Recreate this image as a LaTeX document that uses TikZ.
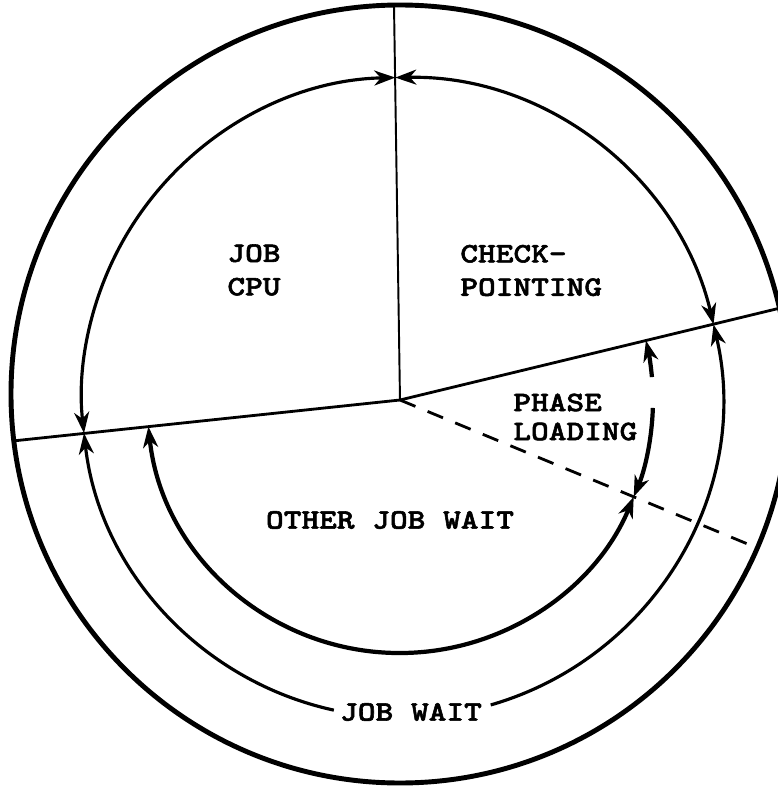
\documentclass[tikz,border=0pt]{standalone}
\usepackage{fontspec}
\newfontfamily\typer{lmmonolt10-bold}[Extension=.otf, FakeStretch=1.2, FakeBold=2]
\usetikzlibrary{arrows.meta}

\begin{document}
\begin{tikzpicture}[
    x=0.02cm, y=0.02cm,
    >={Stealth[length=4.2mm, width=3mm, inset=1.3mm]},
    every node/.style={inner sep=0pt, font=\typer\fontsize{16}{19}\selectfont},
    rim/.style={line width=2.8pt},
    ring/.style={line width=1.8pt},
    hub/.style={line width=2.4pt},
    spoke/.style={line width=1.6pt}
]
\useasboundingbox (-400,-389) rectangle (378,400);

\coordinate (O) at (0,0);
\coordinate (M) at (2,2.5);
\coordinate (top) at (-6,395);
\coordinate (right) at (13.6:390);
\coordinate (left) at (186.04:388);
\coordinate (split) at (-22.5:386);

\draw[rim] (0,6) circle[radius=389];
\draw[line width=1.1pt] (O) -- (top);
\draw[spoke] (left) -- (O) -- (right);
\draw[spoke, dash pattern=on 9.5pt off 7.5pt] (O) -- (split);

\draw[ring, <->] ([shift={(M)}]91.2:320) arc[start angle=91.2, end angle=186.4, radius=320];
\draw[ring, <->] ([shift={(M)}]13.2:320) arc[start angle=13.2, end angle=91.2, radius=320];
\draw[ring, <-] ([shift={(M)}]186.4:320) arc[start angle=186.4, end angle=257.7, radius=320];
\draw[ring, ->] ([shift={(M)}]286.1:320) arc[start angle=286.1, end angle=373.2, radius=320];

\draw[hub, <->] (186.04:253) arc[start angle=186.04, end angle=337.5, radius=253];
\draw[hub, <-] (337.5:253) arc[start angle=337.5, end angle=358.2, radius=253];
\draw[hub, ->] (5.2:253) arc[start angle=5.2, end angle=13.6, radius=253];

\node[align=center] (cpu) at (-146,130) {JOB\\CPU};
\node[align=left, anchor=west] (ckpt) at (60,129.5) {CHECK-\\POINTING};
\node[align=left, anchor=west, font=\typer\fontsize{16}{16.5}\selectfont] (phase) at (113,-17) {PHASE\\LOADING};
\node (other) at (-10,-120) {OTHER JOB WAIT};
\node (jobwait) at (11,-312) {JOB WAIT};

\end{tikzpicture}
\end{document}
